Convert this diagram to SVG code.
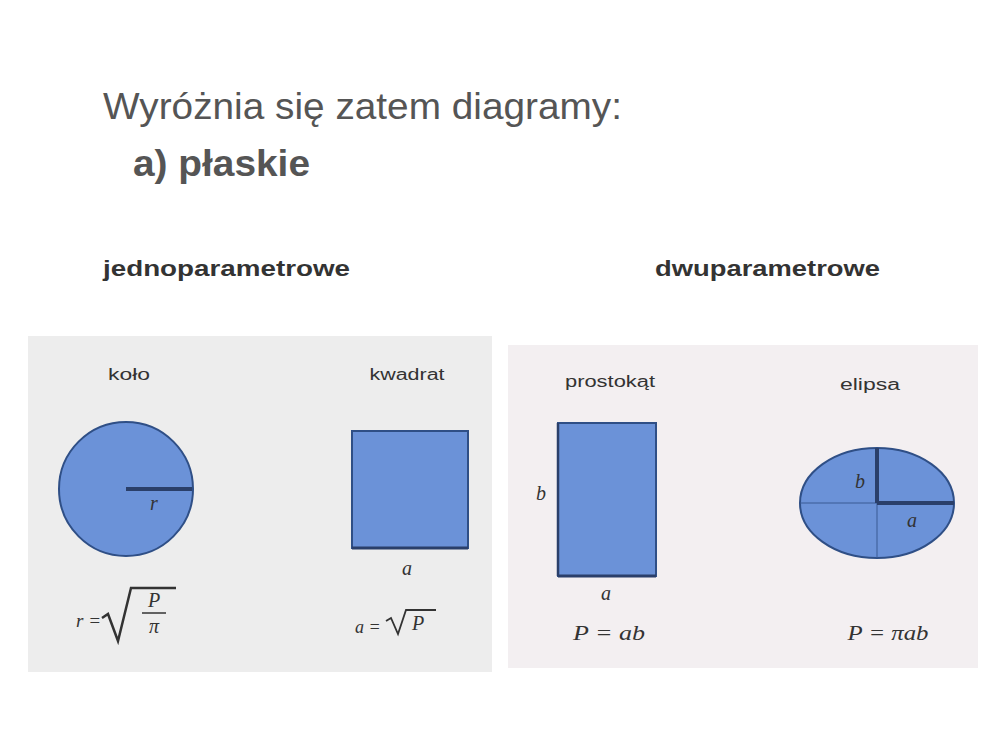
<svg xmlns="http://www.w3.org/2000/svg" width="1000" height="750" viewBox="0 0 1000 750">
<style>
.title{font-family:"Liberation Sans",Arial,sans-serif;font-size:37px;fill:#555}
.head{font-family:"Liberation Sans",Arial,sans-serif;font-size:22px;font-weight:bold;fill:#333}
.lbl{font-family:"Liberation Sans",Arial,sans-serif;font-size:16px;fill:#333;text-anchor:middle}
.math{font-family:"Liberation Serif","Times New Roman",serif;font-style:italic;font-size:20px;fill:#333;text-anchor:middle}
.mstart{font-family:"Liberation Serif","Times New Roman",serif;font-style:italic;fill:#333;text-anchor:start}
.shape{fill:#6b92d8;stroke:#2f4f86;stroke-width:2}
.axis{stroke:#2a3f6a;stroke-width:4}
.thin{stroke:#3a5a94;stroke-width:1}
</style>
<rect width="1000" height="750" fill="#fff"/>
<g id="title">
<text class="title" x="103" y="119" textLength="519" lengthAdjust="spacingAndGlyphs">Wyróżnia się zatem diagramy:</text>
<text class="title" x="133" y="176" font-weight="bold" fill="#444" textLength="177" lengthAdjust="spacingAndGlyphs">a) płaskie</text>
</g>
<g id="headings">
<text class="head" x="103" y="276" textLength="247" lengthAdjust="spacingAndGlyphs">jednoparametrowe</text>
<text class="head" x="655" y="276" textLength="225" lengthAdjust="spacingAndGlyphs">dwuparametrowe</text>
</g>
<g id="panel-left">
<rect x="28" y="336" width="464" height="336" fill="#ededed"/>
<g id="kolo">
<text class="lbl" x="129" y="380" textLength="42" lengthAdjust="spacingAndGlyphs">koło</text>
<circle class="shape" cx="126" cy="489" r="67"/>
<line class="axis" x1="126" y1="489" x2="192" y2="489"/>
<text class="math" x="154" y="510" font-size="17">r</text>
<text class="mstart" x="76" y="627" font-size="19">r =</text>
<path d="M102 618 L108 614 L118 641 L131 588 L176 588" fill="none" stroke="#333" stroke-width="2.5"/>
<text class="math" x="154" y="607" font-size="16">P</text>
<line x1="142" y1="613" x2="166" y2="613" stroke="#333" stroke-width="1.5"/>
<text class="math" x="154" y="633" font-size="16">π</text>
</g>
<g id="kwadrat">
<text class="lbl" x="407" y="380" textLength="75" lengthAdjust="spacingAndGlyphs">kwadrat</text>
<rect class="shape" x="352" y="431" width="116" height="117"/>
<line x1="352" y1="548" x2="468" y2="548" stroke="#2a3f6a" stroke-width="3"/>
<text class="math" x="407" y="575" font-size="17">a</text>
<text class="mstart" x="355" y="633" font-size="18">a =</text>
<path d="M386 621 L391 618 L398 634 L406 610 L436 610" fill="none" stroke="#333" stroke-width="1.8"/>
<text class="math" x="418" y="630" font-size="17">P</text>
</g>
</g>
<g id="panel-right">
<rect x="508" y="345" width="470" height="323" fill="#f3eff1"/>
<g id="prostokat">
<text class="lbl" x="610" y="387" textLength="90" lengthAdjust="spacingAndGlyphs">prostokąt</text>
<rect class="shape" x="558" y="423" width="98" height="153"/>
<line x1="558" y1="576" x2="656" y2="576" stroke="#2a3f6a" stroke-width="3"/>
<line x1="558" y1="423" x2="558" y2="576" stroke="#2a3f6a" stroke-width="2.5"/>
<text class="math" x="541" y="500" font-size="17">b</text>
<text class="math" x="606" y="600" font-size="17">a</text>
<text class="math" x="609" y="640" font-size="21" textLength="72" lengthAdjust="spacingAndGlyphs">P = ab</text>
</g>
<g id="elipsa">
<text class="lbl" x="870" y="390" textLength="60" lengthAdjust="spacingAndGlyphs">elipsa</text>
<ellipse class="shape" cx="877" cy="503" rx="77" ry="55"/>
<line class="thin" x1="800" y1="503" x2="877" y2="503"/>
<line class="thin" x1="877" y1="503" x2="877" y2="558"/>
<line class="axis" x1="877" y1="448" x2="877" y2="503" stroke-width="3"/>
<line class="axis" x1="877" y1="503" x2="954" y2="503" stroke-width="3"/>
<text class="math" x="860" y="488" font-size="17">b</text>
<text class="math" x="912" y="527" font-size="17">a</text>
<text class="math" x="888" y="640" font-size="21" textLength="81" lengthAdjust="spacingAndGlyphs">P = πab</text>
</g>
</g>
</svg>
